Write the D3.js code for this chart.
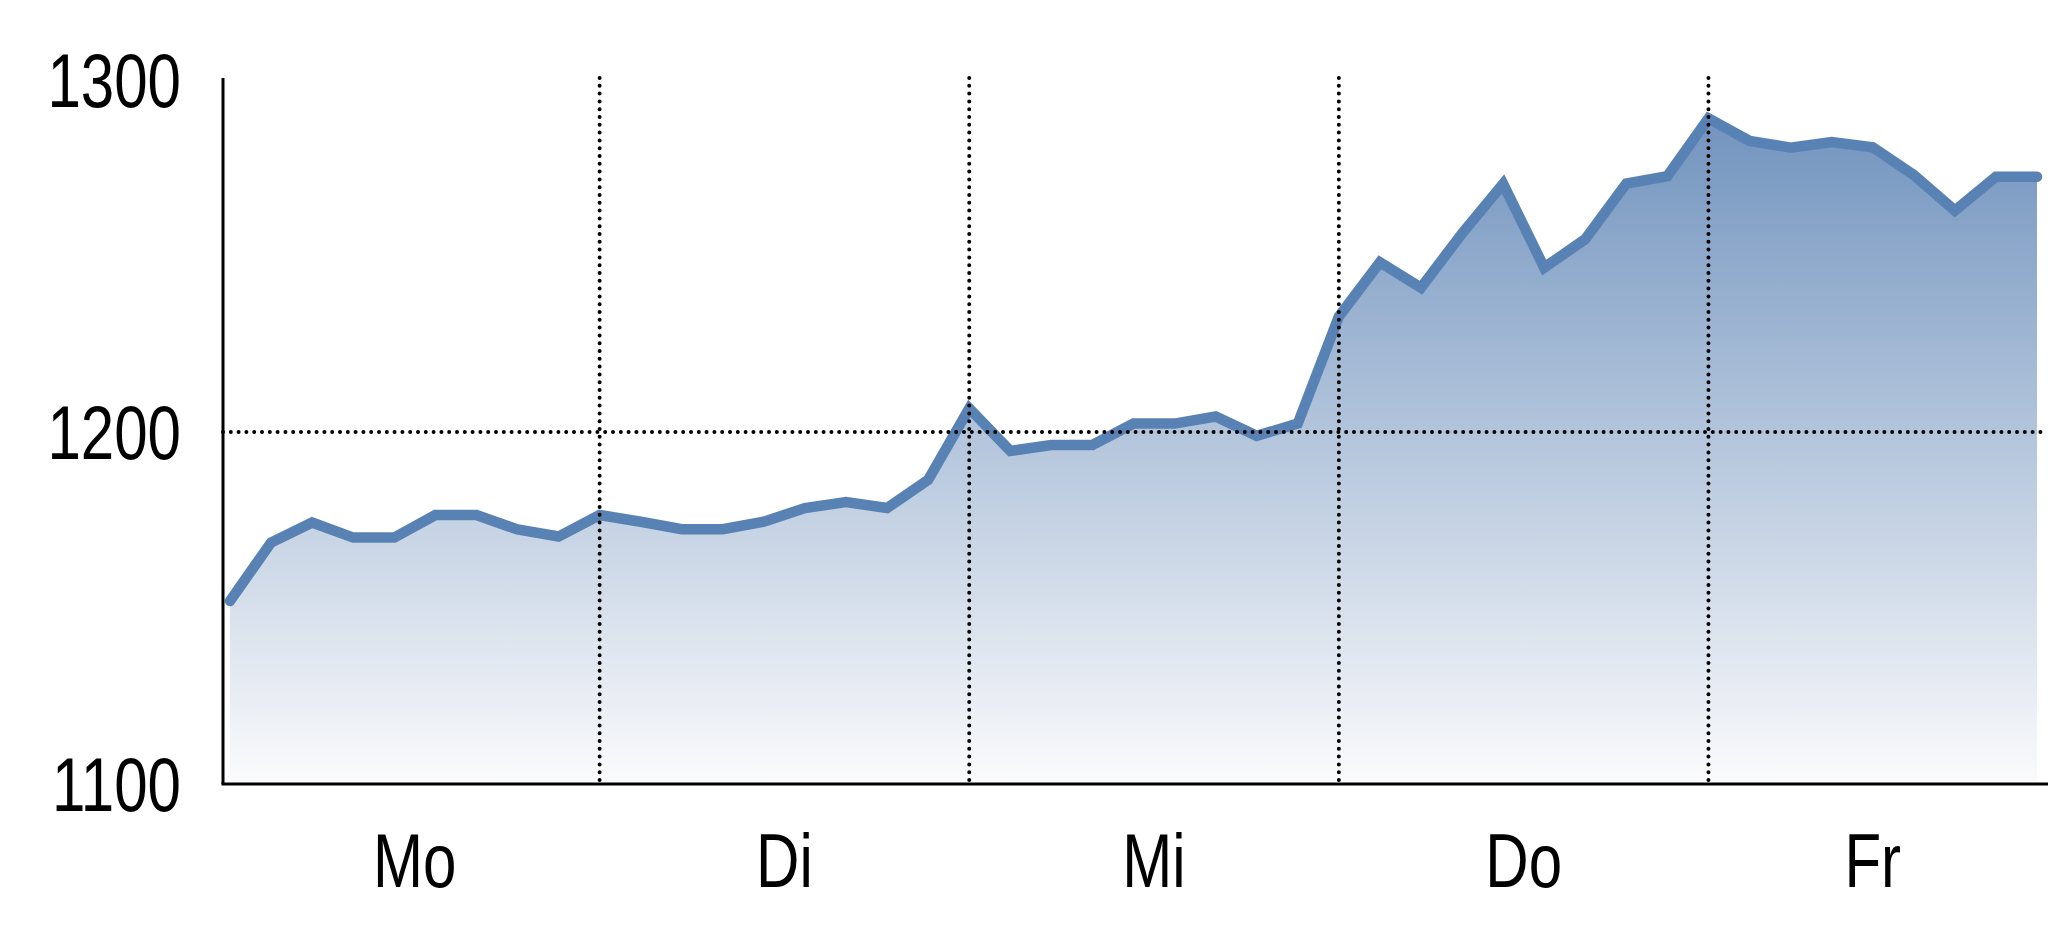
<!DOCTYPE html>
<html>
<head>
<meta charset="utf-8">
<script src="https://cdn.jsdelivr.net/npm/d3@7"></script>
<style>
  html, body { margin: 0; padding: 0; background: #ffffff; }
  svg { display: block; }
  .lbl { font-family: "Liberation Sans", Arial, sans-serif; font-size: 76px; fill: #000; }
</style>
</head>
<body>
<script>
// ---- data ----
const days = ["Mo", "Di", "Mi", "Do", "Fr"];
const dayStartIndex = [0, 9, 18, 27, 36];
const yTicks = [1100, 1200, 1300];
const values = [
  1152, 1168.6, 1174.3, 1170, 1170, 1176.4, 1176.4, 1172.3, 1170.3,
  1176.4, 1174.5, 1172.4, 1172.4, 1174.5, 1178.4, 1180.1, 1178.4, 1186.4,
  1206.7, 1194.6, 1196.3, 1196.3, 1202.4, 1202.4, 1204.4, 1198.9, 1202.4,
  1232.8, 1248.2, 1241, 1256.4, 1270.5, 1246.7, 1254.8, 1270.6, 1272.7,
  1289.1, 1282.7, 1280.8, 1282.4, 1280.9, 1273, 1262.9, 1272.5, 1272.5
];

const W = 2048, H = 937;
const axisX = 223, plotTop = 80, plotBottom = 784, plotRight = 2048;
const narrow = 0.79; // horizontal condensing of label font

const svg = d3.select("body").append("svg").attr("width", W).attr("height", H);

const x = d3.scaleLinear().domain([0, values.length - 1]).range([230, 2037]);
const y = d3.scaleLinear().domain([1100, 1300]).range([plotBottom, plotTop]);

// gradient
const defs = svg.append("defs");
const grad = defs.append("linearGradient")
  .attr("id", "areaGrad").attr("gradientUnits", "userSpaceOnUse")
  .attr("x1", 0).attr("x2", 0).attr("y1", y(1300)).attr("y2", y(1100));
grad.append("stop").attr("offset", "0%").attr("stop-color", "#6a8ebb");
grad.append("stop").attr("offset", "100%").attr("stop-color", "#fbfbfc");

const area = d3.area().x((d, i) => x(i)).y0(y(1100)).y1(d => y(d));
const line = d3.line().x((d, i) => x(i)).y(d => y(d));

svg.append("path").datum(values).attr("d", area).attr("fill", "url(#areaGrad)");
svg.append("path").datum(values).attr("d", line)
  .attr("fill", "none").attr("stroke", "#5982b4").attr("stroke-width", 10.5)
  .attr("stroke-linejoin", "miter").attr("stroke-linecap", "round");

// gridlines (dotted), on top
const gridStyle = sel => sel.attr("stroke", "#000").attr("stroke-width", 4)
  .attr("stroke-dasharray", "0 7.8").attr("stroke-linecap", "round").attr("fill", "none");

svg.append("g").selectAll("line").data(dayStartIndex.slice(1)).join("line")
  .attr("x1", d => x(d)).attr("x2", d => x(d))
  .attr("y1", plotTop - 2).attr("y2", plotBottom)
  .call(gridStyle);

svg.append("line")
  .attr("x1", axisX).attr("x2", plotRight)
  .attr("y1", y(1200)).attr("y2", y(1200))
  .call(gridStyle);

// axes
const yAxis = d3.axisLeft(y).tickValues(yTicks).tickSize(0).tickPadding(0).tickFormat(d3.format("d"));
const gy = svg.append("g").attr("transform", `translate(${axisX},0)`).call(yAxis);
gy.select(".domain").attr("d", `M0,${plotTop - 2}V${plotBottom}`).attr("stroke", "#000").attr("stroke-width", 3);
gy.selectAll("text").attr("class", "lbl").attr("font-size", null).attr("font-family", null)
  .attr("x", 0).attr("y", 0).attr("dy", null).attr("text-anchor", "end")
  .attr("transform", `translate(${181 - axisX},26) scale(${narrow},1)`);

svg.append("line").attr("x1", axisX - 1.5).attr("x2", plotRight)
  .attr("y1", plotBottom).attr("y2", plotBottom)
  .attr("stroke", "#000").attr("stroke-width", 3);

// day labels
const dayCenters = days.map((d, i) => {
  const s = dayStartIndex[i];
  const e = i < days.length - 1 ? dayStartIndex[i + 1] : values.length - 1;
  return { name: d, c: (s + e) / 2 };
});
svg.append("g").selectAll("text").data(dayCenters).join("text")
  .attr("class", "lbl")
  .attr("transform", d => `translate(${x(d.c)},887) scale(${narrow},1)`)
  .attr("text-anchor", "middle").text(d => d.name);
</script>
</body>
</html>
